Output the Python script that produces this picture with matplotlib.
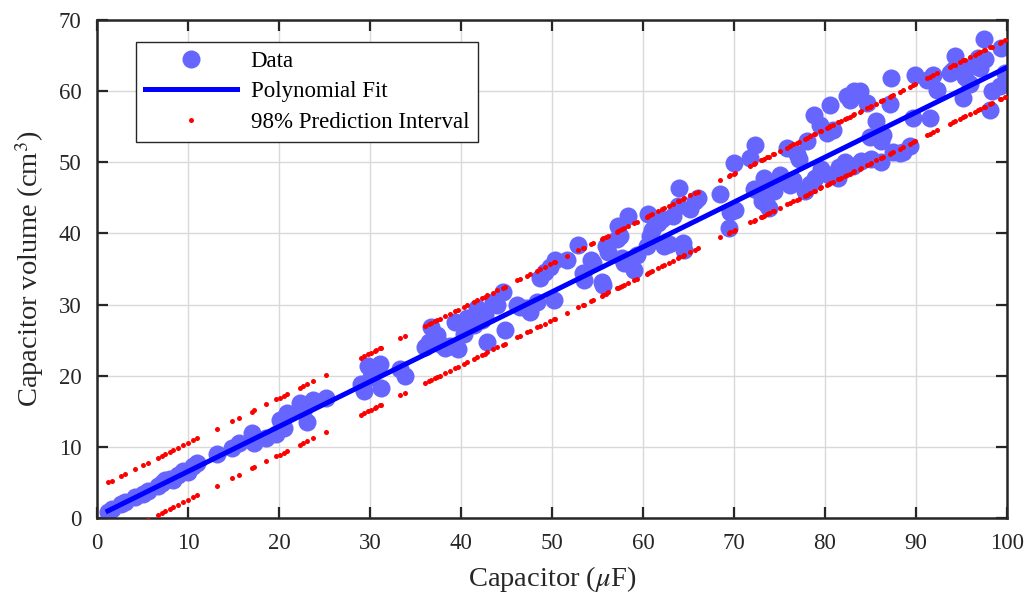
import numpy as np
import matplotlib
matplotlib.use("Agg")
import matplotlib.pyplot as plt

plt.rcParams['font.family'] = ['Liberation Serif', 'DejaVu Serif']
plt.rcParams['mathtext.fontset'] = 'stix'

# capacitance (uF)
cap_x = [1.2, 1.6, 2.6, 3.1, 4.2, 5.1, 5.6, 6.7, 7.1, 7.5, 8.0, 8.4, 8.9, 9.5, 10.0, 10.6, 11.0,
         13.2, 14.8, 15.6, 17.0, 17.3, 18.6, 19.7, 20.1, 20.5, 20.9, 22.3, 22.6, 23.1, 23.7, 25.2,
         29.0, 29.3, 29.8, 30.1, 30.5, 30.7, 31.1, 31.2, 33.3, 33.8,
         36.0, 36.5, 36.7, 37.1, 37.4, 37.7, 38.2, 38.8, 39.3, 39.7, 40.3, 40.7, 41.4, 41.8, 42.3,
         42.6, 42.9, 43.5, 44.0, 44.6, 44.8, 46.2, 46.5, 47.3, 47.6, 48.4, 48.7, 49.2, 49.8, 50.2,
         50.3, 51.7, 52.9, 53.4, 53.5, 54.3, 54.5, 55.5, 55.6, 55.9, 56.2, 57.1, 57.2, 57.5, 57.7,
         57.9, 58.3, 59.0, 59.3, 60.4, 60.5, 60.8, 61.0, 61.6, 62.1, 62.3, 62.8, 63.3, 63.8, 64.0,
         64.4, 64.5, 65.2, 65.7, 66.0,
         68.5, 69.4, 69.6, 70.0, 70.1, 71.8, 72.2, 72.3, 73.0, 73.1, 73.3, 73.6, 73.8, 74.3, 74.4,
         75.1, 75.8, 76.2, 76.5, 76.9, 77.1, 77.8, 78.0, 78.4, 78.8, 78.9, 79.5, 79.6, 80.2, 80.4,
         80.6, 80.9, 81.4, 81.5, 81.8, 82.2, 82.4, 82.7, 83.1, 83.2, 83.8, 84.0, 84.6, 84.9, 85.1,
         85.6, 86.1, 86.2, 86.4, 87.1, 87.3, 87.5, 88.2, 88.6, 89.3, 89.7, 89.9, 91.2, 91.5, 91.9,
         92.3, 93.7, 94.1, 94.3, 94.8, 95.2, 95.4, 95.9, 96.5, 96.8, 97.0, 97.5, 97.6, 98.1, 98.3,
         99.2, 99.3, 99.8]
# capacitor volume (cm^3)
vol_y = [0.9, 1.3, 1.9, 2.3, 2.9, 3.4, 3.8, 4.5, 4.9, 5.3, 5.5, 5.4, 6.1, 6.6, 6.4, 7.3, 7.7,
         9.0, 9.8, 10.6, 12.0, 10.6, 11.3, 11.8, 13.8, 12.6, 14.8, 16.2, 15.0, 13.5, 16.6, 16.8,
         18.9, 17.9, 21.3, 19.8, 20.8, 21.0, 21.7, 18.3, 21.0, 20.0,
         24.0, 24.8, 26.9, 25.0, 25.7, 24.5, 23.9, 24.2, 27.6, 23.8, 25.8, 28.1, 27.2, 29.5, 27.8,
         28.5, 24.8, 30.3, 30.0, 31.8, 26.4, 30.0, 29.6, 29.5, 29.0, 30.4, 33.8, 34.6, 35.3, 30.7,
         36.3, 36.3, 38.4, 34.4, 33.5, 36.3, 35.8, 33.2, 32.8, 38.2, 37.4, 39.2, 41.0, 39.6, 36.5,
         35.8, 42.4, 34.9, 37.0, 38.2, 42.8, 39.6, 40.5, 41.4, 42.0, 38.2, 38.5, 42.5, 43.8, 46.4,
         38.6, 37.7, 43.5, 44.5, 45.0,
         45.6, 40.7, 43.0, 49.9, 43.3, 50.6, 46.3, 52.4, 45.5, 44.5, 47.8, 44.0, 43.6, 46.5, 45.9,
         48.2, 52.0, 46.8, 47.5, 51.1, 50.5, 45.9, 53.0, 47.0, 56.7, 47.8, 55.3, 49.0, 54.1, 48.2,
         58.1, 54.5, 47.8, 49.4, 49.0, 50.0, 59.3, 58.8, 49.5, 60.0, 60.0, 50.2, 58.4, 53.6, 50.5,
         55.8, 50.0, 53.0, 53.8, 58.2, 61.8, 51.5, 51.3, 51.5, 52.3, 56.2, 62.2, 61.5, 56.2, 62.3,
         60.2, 62.5, 63.0, 65.0, 63.5, 59.0, 62.0, 61.0, 64.0, 64.7, 63.2, 67.4, 64.5, 57.3, 60.0,
         60.7, 66.0, 62.5]

# polynomial fit coefficients (slope, intercept) and 98% PI half-width
fit_coef = [0.631, 0.24]
pi_halfwidth = 4.0

x_ticks = [0, 10, 20, 30, 40, 50, 60, 70, 80, 90, 100]
y_ticks = [0, 10, 20, 30, 40, 50, 60, 70]

x = np.array(cap_x)
y = np.array(vol_y)
order = np.argsort(x)
x, y = x[order], y[order]
fit = np.polyval(fit_coef, x)

fig = plt.figure(figsize=(10.30, 5.99), dpi=100)
ax = fig.add_axes([0.0942, 0.1352, 0.8835, 0.8314])

ax.plot(x, y, 'o', color='#6666FF', markersize=13, markeredgewidth=0, label='Data', zorder=2)
ax.plot(x, fit, '-', color='#0000FF', linewidth=3.6, label='Polynomial Fit', zorder=3)
ax.plot(x, fit + pi_halfwidth, 'o', color='#FF0000', markersize=3.6, markeredgewidth=0,
        label='98% Prediction Interval', zorder=4)
ax.plot(x, fit - pi_halfwidth, 'o', color='#FF0000', markersize=3.6, markeredgewidth=0, zorder=4)

ax.set_xlim(0, 100)
ax.set_ylim(0, 70)
ax.set_xticks(x_ticks)
ax.set_yticks(y_ticks)
ax.grid(True, color='#d9d9d9', linewidth=1.0)
ax.set_axisbelow(True)
ax.tick_params(direction='in', length=8, width=1.6, top=True, right=True,
               labelsize=16.5, colors='#262626', pad=11)
for sp in ax.spines.values():
    sp.set_linewidth(1.8)
    sp.set_color('#262626')

ax.set_xlabel(r'Capacitor ($\mu$F)', fontsize=20.5, color='#262626', labelpad=7)
ax.set_ylabel(r'Capacitor volume (cm$^3$)', fontsize=20.5, color='#262626', labelpad=9)

leg = ax.legend(loc='upper left', bbox_to_anchor=(0.043, 0.956), borderaxespad=0,
                fancybox=False, edgecolor='#262626', framealpha=1, fontsize=16.5,
                handlelength=4.0, handletextpad=0.6, borderpad=0.4, labelspacing=0.4)
leg.get_frame().set_linewidth(1.0)
leg.legend_handles[2].set_markersize(3.6)

fig.savefig('out.png', dpi=100)
